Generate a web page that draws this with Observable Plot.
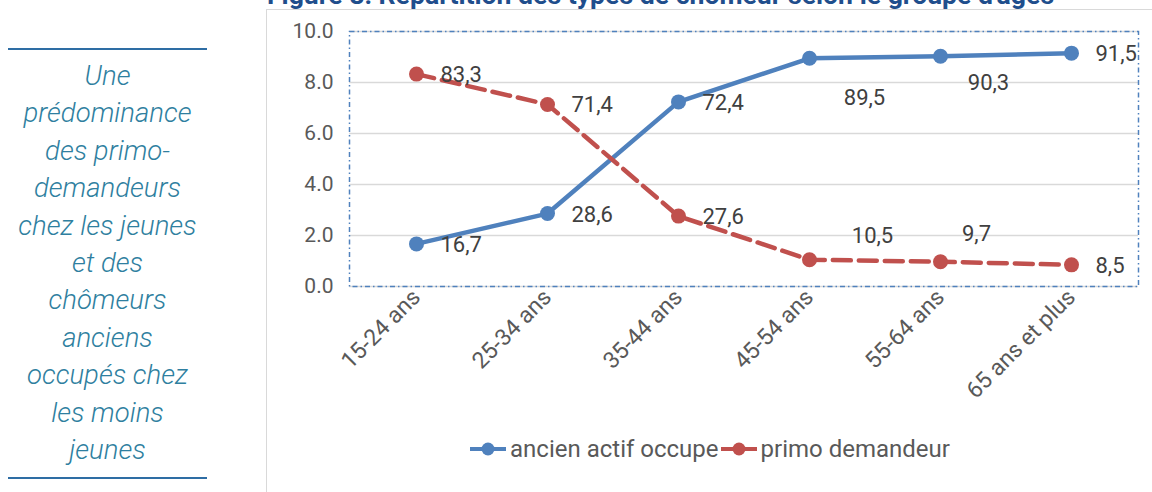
<!DOCTYPE html>
<html>
<head>
<meta charset="utf-8">
<script src="https://cdn.jsdelivr.net/npm/d3@7"></script>
<script src="https://cdn.jsdelivr.net/npm/@observablehq/plot@0.6"></script>
<style>
  html, body { margin:0; padding:0; width:1152px; height:492px; overflow:hidden; background:#fff; font-family: Roboto, "Noto Sans", sans-serif; }
  #title { position:absolute; left:267px; top:-19px; font-size:26.6px; line-height:27px; font-weight:700; color:#1f4e8c; white-space:nowrap; }
  #side { position:absolute; left:8px; top:48px; width:199px; border-top:2px solid #2e6da4; }
  #sidetext { text-align:center; font-style:italic; font-weight:300; font-size:27.5px; line-height:37.4px; color:#2f7fa0; padding-top:7px; height:420px; border-bottom:2px solid #2e6da4; box-sizing:content-box; white-space:nowrap; }
  #chartbox { position:absolute; left:266px; top:9px; width:886px; height:483px; border-left:1px solid #d9d9d9; border-top:1px solid #d9d9d9; }
  #chart { position:absolute; left:0px; top:0px; }
  #legend { position:absolute; left:0; top:425px; width:886px; text-align:center; font-size:24px; color:#595959; white-space:nowrap; }
  #legend span.item { display:inline-flex; align-items:center; margin:0 1px; }
  #legend svg { margin-right:4px; }
</style>
</head>
<body>
<div id="title">Figure 8: Répartition des types de chômeur selon le groupe d'âges</div>
<div id="side"><div id="sidetext">Une<br>prédominance<br>des primo-<br>demandeurs<br>chez les jeunes<br>et des<br>chômeurs<br>anciens<br>occupés chez<br>les moins<br>jeunes</div></div>
<div id="chartbox">
  <div id="chart"></div>
  <div id="legend"></div>
</div>
<script>
const categories = ["15-24 ans", "25-34 ans", "35-44 ans", "45-54 ans", "55-64 ans", "65 ans et plus"];
const seriesNames = ["ancien actif occupe", "primo demandeur"];
const ancienActif = [16.7, 28.6, 72.4, 89.5, 90.3, 91.5];
const primoDemandeur = [83.3, 71.4, 27.6, 10.5, 9.7, 8.5];
const yTicks = [0, 2, 4, 6, 8, 10];

const colors = {"ancien actif occupe": "#4f81bd", "primo demandeur": "#c0504d"};

const rowsA = categories.map((c, i) => ({cat: c, v: ancienActif[i], s: seriesNames[0]}));
const rowsP = categories.map((c, i) => ({cat: c, v: primoDemandeur[i], s: seriesNames[1]}));
const all = rowsA.concat(rowsP);
const fmt = d => d.v.toFixed(1).replace(".", ",");
const yv = d => d.v / 10;

// label placement exceptions (as in the original, some labels were moved)
const special = {
  "ancien actif occupe|45-54 ans": [55, 40],
  "ancien actif occupe|55-64 ans": [48, 27],
  "primo demandeur|45-54 ans": [63, -24],
  "primo demandeur|55-64 ans": [36, -28]
};
const key = d => d.s + "|" + d.cat;
const normal = all.filter(d => !special[key(d)]);
const labelMarks = [
  Plot.text(normal, {x: "cat", y: yv, text: fmt, dx: 24, dy: 1, textAnchor: "start", fill: "#404040", fontSize: 22})
];
for (const d of all.filter(d => special[key(d)])) {
  const [dx, dy] = special[key(d)];
  labelMarks.push(Plot.text([d], {x: "cat", y: yv, text: fmt, dx, dy, textAnchor: "middle", fill: "#404040", fontSize: 22}));
}

const chart = Plot.plot({
  width: 886,
  height: 420,
  marginLeft: 82,
  marginRight: 15,
  marginTop: 21,
  marginBottom: 144,
  style: {fontFamily: "Roboto, 'Noto Sans', sans-serif", color: "#595959", overflow: "visible", background: "transparent"},
  x: {type: "point", domain: categories, padding: 0.5},
  y: {domain: [0, 10]},
  marks: [
    Plot.gridY(yTicks, {stroke: "#d9d9d9", strokeOpacity: 1, strokeWidth: 1.5}),
    Plot.frame({stroke: "#4f81bd", strokeDasharray: "5,3,1.5,3", strokeWidth: 1.5}),
    Plot.axisY(yTicks, {tickFormat: d => d.toFixed(1), tickSize: 0, tickPadding: 16, fontSize: 21, label: null}),
    Plot.axisX({tickRotate: -45, tickSize: 0, tickPadding: 7, fontSize: 23, label: null}),
    Plot.line(rowsA, {x: "cat", y: yv, stroke: colors[seriesNames[0]], strokeWidth: 4.5}),
    Plot.dot(rowsA, {x: "cat", y: yv, r: 7.5, fill: colors[seriesNames[0]]}),
    Plot.line(rowsP, {x: "cat", y: yv, stroke: colors[seriesNames[1]], strokeWidth: 4.5, strokeDasharray: "18,8"}),
    Plot.dot(rowsP, {x: "cat", y: yv, r: 7.5, fill: colors[seriesNames[1]]}),
    ...labelMarks
  ]
});
document.getElementById("chart").appendChild(chart);

const legend = document.getElementById("legend");
seriesNames.forEach(name => {
  const c = colors[name];
  const span = document.createElement("span");
  span.className = "item";
  span.innerHTML = `<svg width="36" height="16"><line x1="0" x2="36" y1="8" y2="8" stroke="${c}" stroke-width="4"/><circle cx="18" cy="8" r="6.5" fill="${c}"/></svg>${name}`;
  legend.appendChild(span);
});
</script>
</body>
</html>
